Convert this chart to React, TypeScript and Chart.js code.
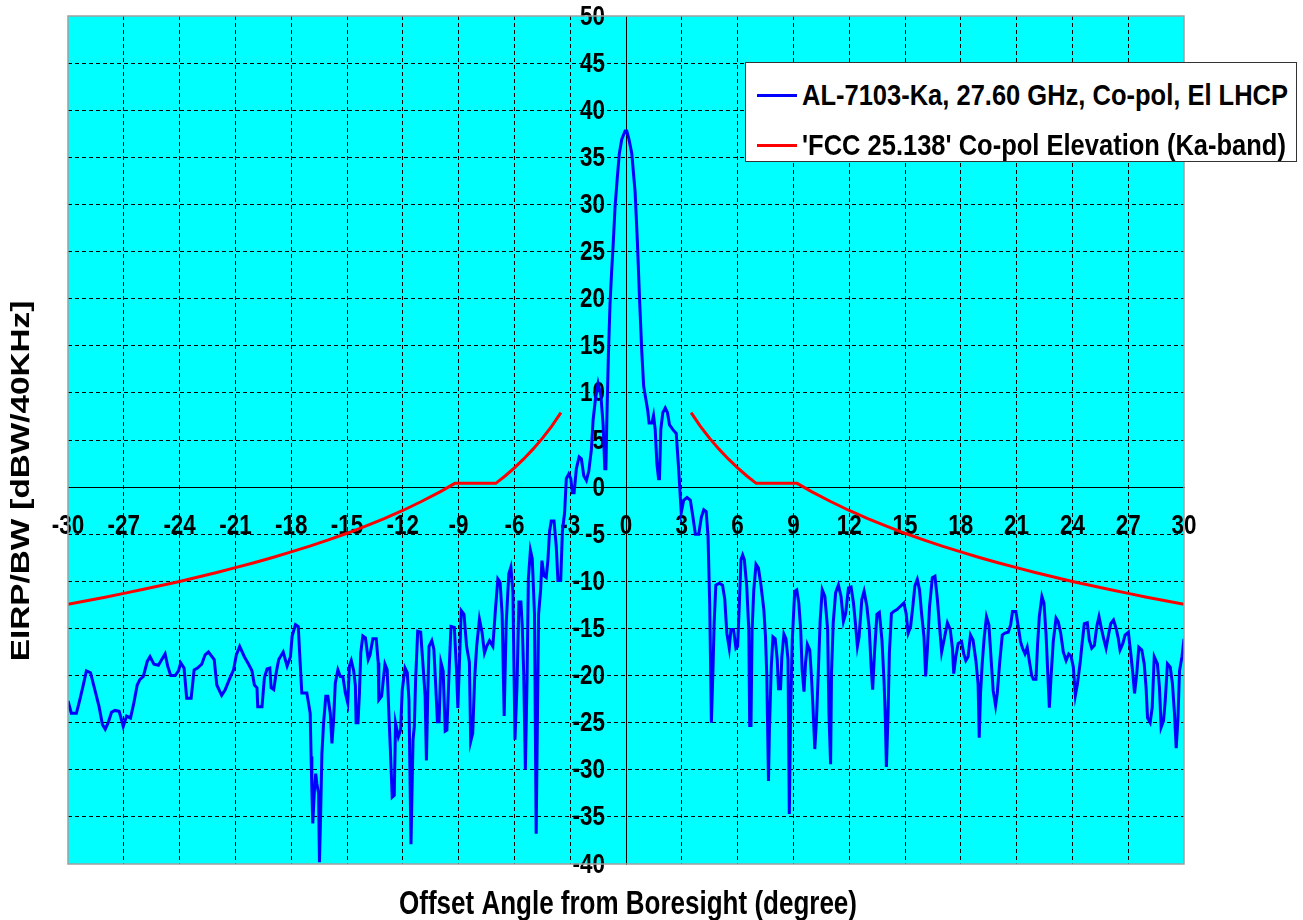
import React, { useEffect, useRef } from "react";
import { Chart, registerables } from "chart.js";

Chart.register(...registerables);

const xTickValues = [-30, -27, -24, -21, -18, -15, -12, -9, -6, -3, 0, 3, 6, 9, 12, 15, 18, 21, 24, 27, 30];
const yTickValues = [-40, -35, -30, -25, -20, -15, -10, -5, 0, 5, 10, 15, 20, 25, 30, 35, 40, 45, 50];

const seriesNames = [
  "AL-7103-Ka, 27.60 GHz, Co-pol, El LHCP",
  "'FCC 25.138' Co-pol Elevation (Ka-band)",
];
const seriesColors = ["#0000FF", "#FF0000"];
const xTitle = "Offset Angle from Boresight (degree)";
const yTitle = "EIRP/BW [dBW/40KHz]";

const blueAngles = [
  -30.0, -29.82, -29.55, -29.37, -29.19, -29.01, -28.79, -28.56, -28.33, -28.15,
  -28.0, -27.84, -27.66, -27.48, -27.25, -27.03, -26.85, -26.64, -26.46, -26.28,
  -26.13, -25.95, -25.74, -25.59, -25.38, -25.14, -24.96, -24.78, -24.64, -24.48,
  -24.24, -24.06, -23.94, -23.76, -23.62, -23.38, -23.22, -23.04, -22.81, -22.63,
  -22.45, -22.14, -22.0, -21.74, -21.55, -21.28, -21.1, -20.95, -20.77, -20.52,
  -20.29, -20.11, -19.98, -19.84, -19.8, -19.57, -19.44, -19.3, -19.15, -19.08,
  -18.94, -18.79, -18.67, -18.43, -18.22, -18.04, -17.95, -17.77, -17.62, -17.52,
  -17.43, -17.16, -17.07, -16.98, -16.93, -16.89, -16.84, -16.75, -16.68, -16.62,
  -16.53, -16.48, -16.41, -16.35, -16.26, -16.14, -16.03, -15.9, -15.81, -15.72,
  -15.63, -15.49, -15.36, -15.22, -15.09, -14.96, -14.87, -14.77, -14.64, -14.55,
  -14.51, -14.41, -14.33, -14.26, -14.15, -14.01, -13.86, -13.76, -13.61, -13.43,
  -13.32, -13.29, -13.14, -12.96, -12.84, -12.75, -12.66, -12.57, -12.46, -12.39,
  -12.24, -12.12, -12.03, -11.88, -11.76, -11.67, -11.56, -11.45, -11.38, -11.31,
  -11.2, -11.04, -10.91, -10.8, -10.73, -10.66, -10.59, -10.44, -10.33, -10.23,
  -10.14, -10.05, -9.95, -9.83, -9.72, -9.63, -9.5, -9.41, -9.23, -9.11,
  -9.04, -8.96, -8.86, -8.71, -8.57, -8.42, -8.35, -8.24, -8.14, -8.03,
  -7.88, -7.74, -7.61, -7.49, -7.34, -7.16, -7.02, -6.89, -6.77, -6.66,
  -6.55, -6.44, -6.3, -6.19, -6.08, -5.97, -5.86, -5.76, -5.65, -5.58,
  -5.5, -5.41, -5.32, -5.25, -5.14, -5.04, -4.92, -4.83, -4.7, -4.59,
  -4.52, -4.41, -4.29, -4.2, -4.11, -4.02, -3.87, -3.75, -3.66, -3.51,
  -3.42, -3.3, -3.21, -3.08, -2.97, -2.88, -2.79, -2.67, -2.52, -2.4,
  -2.27, -2.13, -2.0, -1.86, -1.77, -1.64, -1.5, -1.35, -1.23, -1.14,
  -1.08, -1.03, -0.95, -0.86, -0.77, -0.68, -0.59, -0.47, -0.36, -0.23,
  -0.05, 0.04, 0.16, 0.31, 0.49, 0.61, 0.74, 0.85, 0.95, 1.06,
  1.17, 1.24, 1.39, 1.48, 1.57, 1.66, 1.75, 1.8, 1.87, 1.98,
  2.11, 2.23, 2.34, 2.52, 2.7, 2.83, 2.92, 2.97, 3.1, 3.28,
  3.46, 3.6, 3.73, 3.91, 4.05, 4.18, 4.31, 4.41, 4.5, 4.59,
  4.68, 4.74, 4.83, 5.01, 5.19, 5.31, 5.42, 5.55, 5.64, 5.78,
  5.91, 6.0, 6.09, 6.18, 6.27, 6.36, 6.49, 6.6, 6.65, 6.72,
  6.78, 6.87, 6.99, 7.12, 7.26, 7.41, 7.5, 7.57, 7.66, 7.71,
  7.81, 7.9, 8.02, 8.13, 8.2, 8.31, 8.38, 8.49, 8.6, 8.71,
  8.78, 8.85, 8.94, 9.07, 9.18, 9.29, 9.39, 9.47, 9.57, 9.65,
  9.75, 9.88, 9.97, 10.06, 10.15, 10.24, 10.33, 10.44, 10.55, 10.69,
  10.84, 10.91, 11.0, 11.05, 11.14, 11.27, 11.42, 11.56, 11.69, 11.81,
  11.96, 12.1, 12.23, 12.35, 12.44, 12.53, 12.68, 12.8, 12.95, 13.08,
  13.18, 13.26, 13.36, 13.49, 13.62, 13.76, 13.87, 13.94, 14.0, 14.09,
  14.16, 14.27, 14.39, 14.57, 14.75, 14.94, 15.06, 15.17, 15.3, 15.42,
  15.53, 15.66, 15.78, 15.89, 16.02, 16.11, 16.2, 16.32, 16.47, 16.61,
  16.74, 16.87, 16.97, 17.1, 17.28, 17.43, 17.55, 17.62, 17.73, 17.86,
  18.04, 18.16, 18.27, 18.39, 18.52, 18.66, 18.81, 18.93, 18.99, 19.06,
  19.15, 19.26, 19.38, 19.51, 19.62, 19.74, 19.87, 19.96, 20.1, 20.23,
  20.37, 20.55, 20.68, 20.78, 20.96, 21.09, 21.21, 21.32, 21.45, 21.57,
  21.68, 21.81, 21.9, 22.04, 22.13, 22.22, 22.36, 22.47, 22.58, 22.67,
  22.76, 22.85, 22.97, 23.12, 23.24, 23.37, 23.51, 23.66, 23.8, 23.92,
  24.05, 24.16, 24.27, 24.41, 24.52, 24.64, 24.8, 24.91, 25.04, 25.18,
  25.31, 25.43, 25.58, 25.7, 25.81, 25.94, 26.06, 26.21, 26.35, 26.47,
  26.56, 26.71, 26.83, 27.01, 27.14, 27.25, 27.34, 27.46, 27.57, 27.73,
  27.86, 27.96, 28.04, 28.18, 28.29, 28.4, 28.57, 28.68, 28.77, 28.9,
  28.99, 29.11, 29.26, 29.38, 29.49, 29.58, 29.67, 29.76, 29.89, 30.0,
];

const blueLevels = [
  -22.7, -24.0, -24.0, -22.6, -21.1, -19.5, -19.7, -21.5, -23.3, -25.2,
  -25.7, -25.0, -23.9, -23.7, -23.8, -25.4, -24.3, -24.5, -22.9, -21.0,
  -20.4, -20.1, -18.5, -18.0, -18.8, -18.9, -18.3, -17.7, -19.0, -20.0,
  -20.0, -19.5, -18.65, -19.2, -22.4, -22.4, -19.4, -19.2, -18.8, -17.8,
  -17.5, -18.3, -21.0, -22.1, -21.5, -20.2, -19.4, -17.8, -16.9, -18.0,
  -18.8, -19.5, -21.0, -21.3, -23.3, -23.3, -20.2, -19.3, -19.2, -21.3,
  -21.5, -19.5, -18.3, -17.5, -19.0, -18.0, -15.8, -14.6, -14.8, -18.6,
  -21.85, -21.85, -22.9, -24.0, -28.6, -32.0, -35.7, -32.1, -30.4, -31.5,
  -32.5, -39.8, -34.0, -28.3, -25.05, -22.2, -22.2, -24.0, -27.2, -24.7,
  -20.8, -19.4, -20.1, -20.1, -21.85, -22.9, -19.0, -18.4, -19.5, -21.1,
  -25.0, -25.0, -21.85, -17.6, -15.8, -16.0, -18.3, -17.8, -16.1, -16.1,
  -18.65, -22.6, -22.2, -18.8, -19.4, -24.0, -28.3, -32.9, -32.7, -25.05,
  -26.5, -25.8, -21.5, -19.2, -19.7, -22.6, -37.9, -26.8, -25.4, -20.4,
  -15.3, -15.4, -19.0, -22.2, -29.0, -22.2, -16.9, -16.3, -17.2, -21.1,
  -24.9, -24.9, -18.6, -19.5, -25.9, -25.8, -19.0, -14.8, -14.9, -19.5,
  -23.45, -19.0, -13.1, -13.5, -16.9, -18.6, -27.0, -26.1, -20.4, -16.9,
  -14.0, -15.4, -17.6, -16.9, -16.3, -16.9, -13.0, -9.75, -10.1, -13.5,
  -24.3, -14.4, -9.2, -8.5, -11.2, -26.8, -21.1, -12.2, -12.2, -14.7,
  -19.7, -30.0, -20.4, -9.75, -6.7, -7.6, -13.5, -36.8, -13.5, -10.9,
  -7.8, -9.4, -9.6, -7.8, -4.7, -3.6, -3.6, -6.3, -9.9, -9.9,
  -4.7, -2.7, 0.9, 1.4, 0.9, -0.6, -0.6, 1.95, 3.2, 3.0,
  1.2, 0.7, 1.7, 4.0, 7.1, 9.4, 11.0, 9.7, 6.6, 1.95,
  1.95, 7.1, 13.8, 19.4, 23.0, 26.1, 29.7, 32.8, 35.4, 36.9,
  37.8, 37.8, 36.9, 35.4, 31.3, 26.1, 19.4, 14.3, 10.7, 9.4,
  8.1, 6.8, 6.8, 7.6, 6.1, 2.5, 0.9, 0.9, 6.1, 7.9,
  8.4, 7.9, 6.6, 6.1, 5.7, 1.95, -1.1, -2.7, -1.4, -1.1,
  -1.4, -3.2, -5.0, -5.0, -3.2, -2.4, -2.6, -5.2, -12.4, -25.0,
  -19.1, -14.4, -10.4, -10.2, -10.4, -11.9, -15.5, -17.1, -15.1, -15.1,
  -17.1, -16.9, -12.65, -7.7, -7.2, -7.7, -10.5, -15.1, -25.3, -25.3,
  -15.1, -10.9, -8.2, -8.6, -10.5, -13.0, -15.9, -20.1, -31.2, -25.8,
  -19.1, -15.9, -16.1, -18.3, -21.4, -21.4, -18.0, -15.6, -16.1, -18.3,
  -34.7, -24.0, -16.2, -11.05, -10.9, -12.3, -15.1, -19.4, -21.7, -18.7,
  -16.7, -17.3, -20.1, -23.7, -27.8, -24.75, -20.1, -14.1, -10.9, -11.6,
  -15.1, -24.0, -29.4, -19.7, -14.4, -11.2, -10.4, -11.6, -14.25, -13.4,
  -10.7, -10.6, -12.3, -14.8, -16.9, -15.9, -11.9, -11.05, -12.65, -15.1,
  -19.1, -21.5, -17.6, -13.5, -13.3, -16.2, -20.5, -24.4, -29.7, -24.0,
  -17.6, -13.4, -13.2, -13.0, -12.65, -12.3, -13.4, -15.5, -14.8, -12.65,
  -10.5, -9.8, -10.9, -13.4, -15.9, -20.1, -17.3, -12.65, -9.6, -9.45,
  -11.9, -15.1, -17.5, -16.2, -14.4, -15.1, -17.1, -19.8, -18.0, -16.6,
  -16.4, -17.7, -18.4, -18.0, -15.7, -16.25, -18.4, -20.9, -26.6, -21.9,
  -18.75, -15.9, -13.75, -14.6, -18.0, -21.6, -23.2, -21.9, -18.4, -15.7,
  -15.5, -15.4, -14.6, -13.2, -13.2, -14.8, -16.4, -17.1, -17.7, -17.0,
  -18.4, -20.0, -20.4, -20.4, -16.6, -13.75, -11.6, -12.3, -15.5, -19.5,
  -23.4, -20.2, -16.4, -13.9, -14.3, -15.5, -17.5, -18.4, -17.7, -17.9,
  -19.1, -22.1, -20.9, -18.75, -16.6, -14.5, -14.4, -16.25, -17.1, -16.8,
  -14.8, -13.75, -15.2, -16.25, -17.1, -15.7, -14.5, -14.1, -15.0, -16.1,
  -17.3, -16.6, -15.7, -15.4, -17.7, -19.8, -21.9, -19.8, -17.0, -17.3,
  -18.75, -21.25, -24.5, -25.0, -23.4, -18.0, -18.75, -21.25, -25.5, -24.8,
  -22.7, -18.75, -19.1, -20.9, -24.1, -27.7, -24.8, -19.5, -18.0, -16.1,
];

const redAngles = [
  -30, -29, -28, -27, -26, -25, -24, -23, -22, -21, -20, -19, -18, -17, -16, -15,
  -14, -13, -12, -11, -10, -9.2, -7, -6.5, -6, -5.5, -5, -4.5, -4, -3.5,
  0,
  3.5, 4, 4.5, 5, 5.5, 6, 6.5, 7, 9.2, 10, 11, 12, 13, 14, 15, 16,
  17, 18, 19, 20, 21, 22, 23, 24, 25, 26, 27, 28, 29, 30,
];
const redLevels = [
  -12.43, -12.06, -11.68, -11.28, -10.87, -10.45, -10.01, -9.54, -9.06, -8.55, -8.03, -7.47, -6.88, -6.26, -5.6, -4.9,
  -4.15, -3.35, -2.48, -1.53, -0.5, 0.4, 0.4, 1.18, 2.05, 2.99, 4.03, 5.17, 6.45, 7.9,
  null,
  7.9, 6.45, 5.17, 4.03, 2.99, 2.05, 1.18, 0.4, 0.4, -0.5, -1.53, -2.48, -3.35, -4.15, -4.9, -5.6,
  -6.26, -6.88, -7.47, -8.03, -8.55, -9.06, -9.54, -10.01, -10.45, -10.87, -11.28, -11.68, -12.06, -12.43,
];

const FONT = '"Liberation Sans", Arial, Helvetica, sans-serif';
const TEXT_STRETCH = 1.25;

function stretchedText(ctx: any, text: string, x: number, y: number, sx: number, sy: number) {
  ctx.save();
  ctx.translate(x, y);
  ctx.scale(sx, sy);
  ctx.fillText(text, 0, 0);
  ctx.restore();
}

export default function App() {
  const canvasRef = useRef<HTMLCanvasElement | null>(null);

  useEffect(() => {
    const canvas = canvasRef.current;
    if (!canvas) return;

    const bluePoints = blueAngles.map((a, i) => ({ x: a, y: blueLevels[i] }));
    const redPoints = redAngles.map((a, i) => ({ x: a, y: redLevels[i] }));

    const decor = {
      id: "decor",
      beforeDraw(chart: any) {
        const { ctx, chartArea: a } = chart;
        ctx.save();
        ctx.fillStyle = "#00FFFF";
        ctx.fillRect(a.left, a.top, a.right - a.left, a.bottom - a.top);
        ctx.restore();
      },
      beforeDatasetsDraw(chart: any) {
        const { ctx } = chart;
        const xs = chart.scales.x;
        const ys = chart.scales.y;
        ctx.save();
        ctx.fillStyle = "#000";
        ctx.font = `bold 22px ${FONT}`;
        ctx.textBaseline = "middle";
        ctx.textAlign = "right";
        const axisX = xs.getPixelForValue(0);
        yTickValues.forEach((v) => {
          stretchedText(ctx, String(v), axisX - 21, ys.getPixelForValue(v) + 1, 1.02, TEXT_STRETCH);
        });
        ctx.textAlign = "center";
        const axisY = ys.getPixelForValue(0);
        xTickValues.forEach((v) => {
          stretchedText(ctx, String(v), xs.getPixelForValue(v), axisY + 39, 1.02, TEXT_STRETCH);
        });
        ctx.restore();
      },
      afterDraw(chart: any) {
        const { ctx, chartArea: a } = chart;
        ctx.save();
        ctx.strokeStyle = "#a0a0a0";
        ctx.lineWidth = 1.5;
        ctx.strokeRect(a.left, a.top, a.right - a.left, a.bottom - a.top);
        ctx.fillStyle = "#000";
        ctx.font = `bold 26px ${FONT}`;
        ctx.textAlign = "center";
        ctx.textBaseline = "middle";
        stretchedText(ctx, xTitle, 628, 905, 1, TEXT_STRETCH);
        ctx.translate(22, 481);
        ctx.rotate(-Math.PI / 2);
        ctx.scale(1.28, 1);
        ctx.fillText(yTitle, 0, 0);
        ctx.restore();
      },
    };

    const chart = new Chart(canvas, {
      type: "line",
      data: {
        datasets: [
          {
            label: seriesNames[0],
            data: bluePoints,
            borderColor: seriesColors[0],
            backgroundColor: seriesColors[0],
            borderWidth: 3,
            pointRadius: 0,
            tension: 0,
            fill: false,
          },
          {
            label: seriesNames[1],
            data: redPoints,
            borderColor: seriesColors[1],
            backgroundColor: seriesColors[1],
            borderWidth: 3,
            pointRadius: 0,
            tension: 0,
            fill: false,
            spanGaps: false,
          },
        ],
      },
      options: {
        responsive: false,
        animation: false,
        devicePixelRatio: 1,
        parsing: false as any,
        normalized: true,
        layout: { padding: { left: 68, top: 16, right: 119, bottom: 56 } },
        plugins: {
          legend: { display: false },
          tooltip: { enabled: false },
          title: { display: false },
        },
        scales: {
          x: {
            type: "linear",
            min: -30,
            max: 30,
            position: { y: 0 } as any,
            ticks: { stepSize: 3, display: false },
            grid: {
              color: (c: any) =>
                c.tick && (c.tick.value === -30 || c.tick.value === 30) ? "rgba(0,0,0,0)" : "#000",
              lineWidth: 1,
              drawTicks: false,
            },
            border: { display: true, color: "#000", width: 1, dash: [4, 3] },
          },
          y: {
            type: "linear",
            min: -40,
            max: 50,
            position: { x: 0 } as any,
            ticks: { stepSize: 5, display: false },
            grid: {
              color: (c: any) =>
                c.tick && (c.tick.value === -40 || c.tick.value === 50) ? "rgba(0,0,0,0)" : "#000",
              lineWidth: 1,
              drawTicks: false,
            },
            border: { display: true, color: "#000", width: 1, dash: [4, 3] },
          },
        },
      },
      plugins: [decor],
    });

    return () => chart.destroy();
  }, []);

  const legendRow = (i: number, top: number) => (
    <div key={i} style={{ position: "absolute", left: 0, top, width: "100%", height: 30 }}>
      <div
        style={{
          position: "absolute",
          left: 11,
          top: 14,
          width: 40,
          height: 3,
          background: seriesColors[i],
        }}
      />
      <div
        style={{
          position: "absolute",
          left: 56,
          top: 0,
          lineHeight: "30px",
          fontFamily: FONT,
          fontWeight: "bold",
          fontSize: 25.5,
          color: "#000",
          whiteSpace: "nowrap",
          transform: "scaleY(1.15)",
          transformOrigin: "left center",
        }}
      >
        {seriesNames[i]}
      </div>
    </div>
  );

  return (
    <div style={{ position: "absolute", left: 0, top: 0, width: 1303, height: 920, background: "#fff" }}>
      <canvas ref={canvasRef} width={1303} height={920} style={{ display: "block", width: 1303, height: 920 }} />
      <div
        style={{
          position: "absolute",
          left: 745,
          top: 62,
          width: 552,
          height: 100,
          boxSizing: "border-box",
          border: "1px solid #333",
          background: "#fff",
        }}
      >
        {legendRow(0, 17)}
        {legendRow(1, 67)}
      </div>
    </div>
  );
}
